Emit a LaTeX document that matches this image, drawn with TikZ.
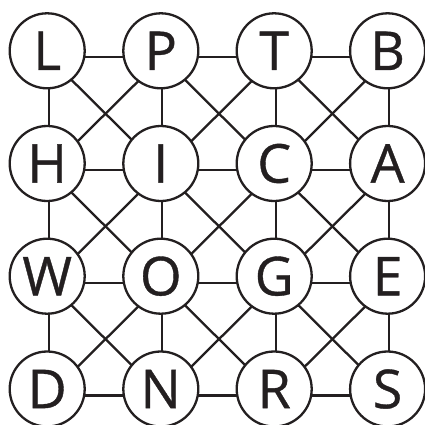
\documentclass[tikz,border=0pt]{standalone}
\usepackage{fontspec}
\setmainfont{Open Sans}
\newfontfamily\letterfont{Open Sans}[FakeBold=0.7]
\usetikzlibrary{backgrounds,calc}
\definecolor{ink}{HTML}{231F20}
\begin{document}
\begin{tikzpicture}[x=1pt,y=1pt,
  letter/.style={circle,draw=ink,fill=white,line width=2.3pt,minimum size=75pt,inner sep=0pt,
    text height=38.3pt,text depth=0pt,font=\letterfont\fontsize{53.6}{60}\selectfont,text=ink},
  link/.style={draw=ink,line width=2.3pt}]
\useasboundingbox (0,0) rectangle (425,-425);
\clip (0,0) rectangle (425,-425);
% row 1
\node[letter] (n11) at (47.2,-50.8) {L};
\node[letter] (n12) at (160.8,-50.8) {P};
\node[letter] (n13) at (274.2,-50.8) {T};
\node[letter] (n14) at (387.6,-50.8) {B};
% row 2
\node[letter] (n21) at (47.2,-163.5) {H};
\node[letter] (n22) at (160.8,-163.5) {I};
\node[letter] (n23) at (274.2,-163.5) {C};
\node[letter] (n24) at (387.6,-163.5) {A};
% row 3
\node[letter] (n31) at (47.2,-276.2) {W};
\node[letter] (n32) at (160.8,-276.2) {O};
\node[letter] (n33) at (274.2,-276.2) {G};
\node[letter] (n34) at (387.6,-276.2) {E};
% row 4
\node[letter] (n41) at (47.2,-389) {D};
\node[letter] (n42) at (160.8,-389) {N};
\node[letter] (n43) at (274.2,-389) {R};
\node[letter] (n44) at (387.6,-389) {S};
% line anchors
\foreach \r in {1,...,4}{\foreach \c in {1,...,4}{
  \coordinate (k\r\c) at ($(n\r\c.center)+(1.5,-6.5)$);}}
\begin{scope}[on background layer]
\foreach \r in {1,...,4}{\foreach \c in {1,2,3}{
  \pgfmathtruncatemacro{\cn}{\c+1}
  \draw[link] (k\r\c) -- (k\r\cn);
  \draw[link] (k\c\r) -- (k\cn\r);}}
\foreach \r in {1,2,3}{\foreach \c in {1,2,3}{
  \pgfmathtruncatemacro{\cn}{\c+1}
  \pgfmathtruncatemacro{\rn}{\r+1}
  \draw[link] (k\r\c) -- (k\rn\cn);
  \draw[link] (k\r\cn) -- (k\rn\c);}}
\end{scope}
\end{tikzpicture}
\end{document}
